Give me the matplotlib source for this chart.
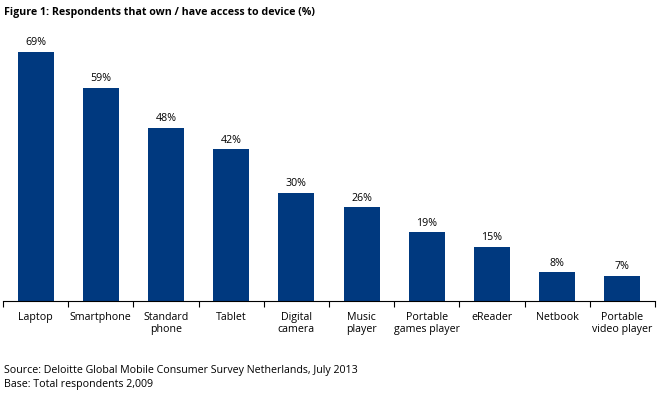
import matplotlib
matplotlib.use("Agg")
import matplotlib.pyplot as plt

categories = ["Laptop", "Smartphone", "Standard\nphone", "Tablet", "Digital\ncamera",
              "Music\nplayer", "Portable\ngames player", "eReader", "Netbook", "Portable\nvideo player"]
values = [69, 59, 48, 42, 30, 26, 19, 15, 8, 7]
value_labels = ["69%", "59%", "48%", "42%", "30%", "26%", "19%", "15%", "8%", "7%"]

plt.rcParams['font.family'] = ['Open Sans', 'DejaVu Sans']
FS = 7.7

fig = plt.figure(figsize=(6.66, 3.95), dpi=100)
ax = fig.add_axes([3/666, 1-301/395, 652/666, 271/395])

x = list(range(len(categories)))
bars = ax.bar(x, values, width=0.55, color="#00397F")
for xi, v, lab in zip(x, values, value_labels):
    ax.annotate(lab, (xi, v), xytext=(0, 2.5), textcoords="offset points",
                ha="center", va="bottom", fontsize=FS, color="black")

ax.set_xlim(-0.5, len(categories) - 0.5)
ax.set_ylim(0, 75)
for s in ["top", "right", "left"]:
    ax.spines[s].set_visible(False)
ax.spines["bottom"].set_color("black")
ax.spines["bottom"].set_linewidth(0.8)
ax.set_yticks([])

ax.set_xticks([i - 0.5 for i in range(len(categories) + 1)])
ax.set_xticklabels([])
ax.tick_params(axis="x", which="major", direction="out", length=4, width=0.8, color="black")
ax.set_xticks(x, minor=True)
ax.set_xticklabels(categories, minor=True, fontsize=FS, linespacing=1.1)
ax.tick_params(axis="x", which="minor", length=0, pad=8)

fig.text(4/666, 1-12/395, "Figure 1: Respondents that own / have access to device (%)",
         fontsize=FS, fontweight="bold", ha="left", va="center")
fig.text(4/666, 1-371/395, "Source: Deloitte Global Mobile Consumer Survey Netherlands, July 2013",
         fontsize=FS, ha="left", va="center")
fig.text(4/666, 1-385/395, "Base: Total respondents 2,009",
         fontsize=FS, ha="left", va="center")

fig.savefig("out.png", dpi=100)
